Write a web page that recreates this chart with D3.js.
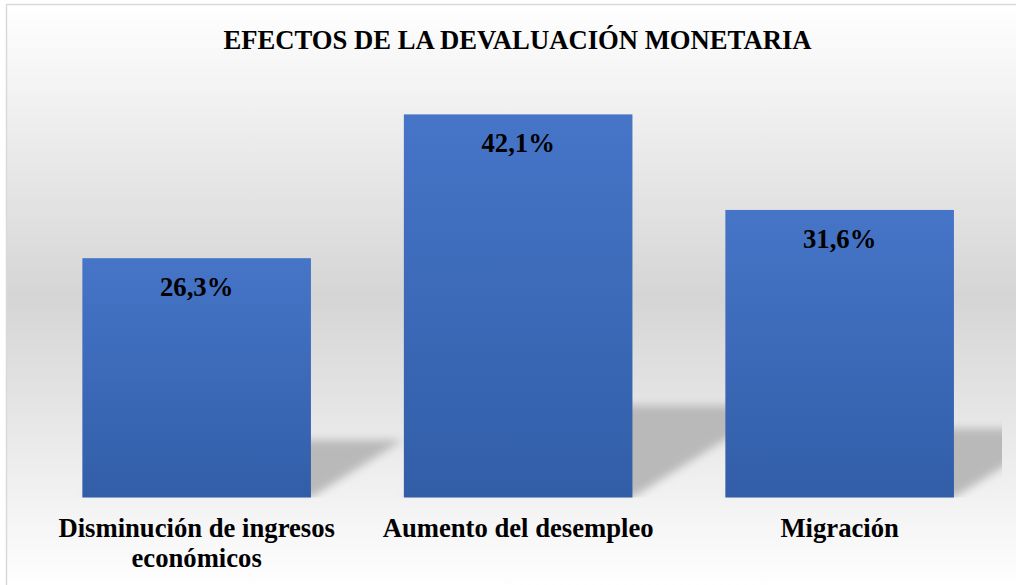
<!DOCTYPE html>
<html>
<head>
<meta charset="utf-8">
<script src="https://cdn.jsdelivr.net/npm/d3@7"></script>
<style>
  html, body { margin: 0; padding: 0; background: #ffffff; }
  svg { display: block; }
</style>
</head>
<body>
<script>
// ---- data ----
const title = "EFECTOS DE LA DEVALUACIÓN MONETARIA";
const categories = ["Disminución de ingresos económicos", "Aumento del desempleo", "Migración"];
const values = [26.3, 42.1, 31.6];
const yMax = 50;

// ---- layout ----
const W = 1016, H = 585;
const baseY = 497.5, topY = 42.5;
const plotL = 35.9, plotR = 1000.4;
const font = "'Liberation Serif', 'Times New Roman', Times, serif";

const svg = d3.select("body").append("svg").attr("width", W).attr("height", H);
const defs = svg.append("defs");

const bg = defs.append("linearGradient").attr("id", "bgGrad")
  .attr("gradientUnits", "userSpaceOnUse").attr("x1", 0).attr("x2", 0).attr("y1", 4).attr("y2", 590);
bg.append("stop").attr("offset", "0%").attr("stop-color", "#ffffff");
bg.append("stop").attr("offset", "50%").attr("stop-color", "#d5d5d5");
bg.append("stop").attr("offset", "100%").attr("stop-color", "#ffffff");

const bar = defs.append("linearGradient").attr("id", "barGrad")
  .attr("x1", 0).attr("x2", 0).attr("y1", 0).attr("y2", 1);
bar.append("stop").attr("offset", "0%").attr("stop-color", "#4675c8");
bar.append("stop").attr("offset", "100%").attr("stop-color", "#325ea8");

const blur = defs.append("filter").attr("id", "blur")
  .attr("x", "-30%").attr("y", "-30%").attr("width", "160%").attr("height", "160%");
blur.append("feGaussianBlur").attr("stdDeviation", 4);

defs.append("clipPath").attr("id", "plotClip").append("rect")
  .attr("x", plotL).attr("y", 0).attr("width", 1002 - plotL).attr("height", baseY);

// chart area background + border
svg.append("rect").attr("x", 6.5).attr("y", 4.5).attr("width", 1040).attr("height", 620)
  .attr("fill", "url(#bgGrad)").attr("stroke", "#d9d9d9").attr("stroke-width", 1.5);

// scales
const x = d3.scaleBand().domain(categories).range([plotL, plotR])
  .paddingInner(0.289).paddingOuter(0.1445);
const y = d3.scaleLinear().domain([0, yMax]).range([baseY, topY]);

// perspective shadows
const shadowRatio = 0.24, skew = 1.6;
svg.append("g").attr("clip-path", "url(#plotClip)")
  .selectAll("path").data(categories).join("path")
  .attr("d", (c, i) => {
    const x0 = x(c), x1 = x(c) + x.bandwidth();
    const h = (baseY - y(values[i])) * shadowRatio;
    const s = h * skew;
    return `M${x0},${baseY}L${x1},${baseY}L${x1 + s},${baseY - h}L${x0 + s},${baseY - h}Z`;
  })
  .attr("fill", "#b9b9b9")
  .attr("filter", "url(#blur)");

// bars
svg.append("g").selectAll("rect").data(categories).join("rect")
  .attr("x", c => x(c))
  .attr("y", (c, i) => y(values[i]))
  .attr("width", x.bandwidth())
  .attr("height", (c, i) => baseY - y(values[i]))
  .attr("fill", "url(#barGrad)");

// data labels
const loc = d3.formatLocale({decimal: ",", thousands: ".", grouping: [3], currency: ["", ""]});
const fmt = loc.format(".1f");
svg.append("g").selectAll("text").data(categories).join("text")
  .attr("x", c => x(c) + x.bandwidth() / 2)
  .attr("y", (c, i) => y(values[i]) + 38)
  .attr("text-anchor", "middle")
  .attr("font-family", font).attr("font-weight", "bold").attr("font-size", "26.67px")
  .attr("fill", "#000")
  .text((c, i) => fmt(values[i]) + "%");

// title
svg.append("text").attr("x", 517.5).attr("y", 49.3)
  .attr("text-anchor", "middle")
  .attr("font-family", font).attr("font-weight", "bold").attr("font-size", "26.67px")
  .attr("fill", "#000").text(title);

// category axis labels (wrapped)
const axisG = svg.append("g").attr("transform", `translate(0,${baseY})`)
  .call(d3.axisBottom(x).tickSize(0).tickFormat(""));
axisG.select(".domain").remove();

const catG = svg.append("g");
categories.forEach(c => {
  const t = catG.append("text")
    .attr("x", x(c) + x.bandwidth() / 2).attr("y", 536.8)
    .attr("text-anchor", "middle")
    .attr("font-family", font).attr("font-weight", "bold").attr("font-size", "26.67px")
    .attr("fill", "#000");
  const words = c.split(" ");
  let line = [], lineNo = 0;
  let tspan = t.append("tspan").attr("x", x(c) + x.bandwidth() / 2).attr("dy", 0);
  const maxW = x.step() - 20;
  words.forEach(w => {
    line.push(w);
    tspan.text(line.join(" "));
    if (tspan.node().getComputedTextLength() > maxW && line.length > 1) {
      line.pop();
      tspan.text(line.join(" "));
      line = [w];
      lineNo++;
      tspan = t.append("tspan").attr("x", x(c) + x.bandwidth() / 2).attr("dy", 30.5).text(w);
    }
  });
});
</script>
</body>
</html>
